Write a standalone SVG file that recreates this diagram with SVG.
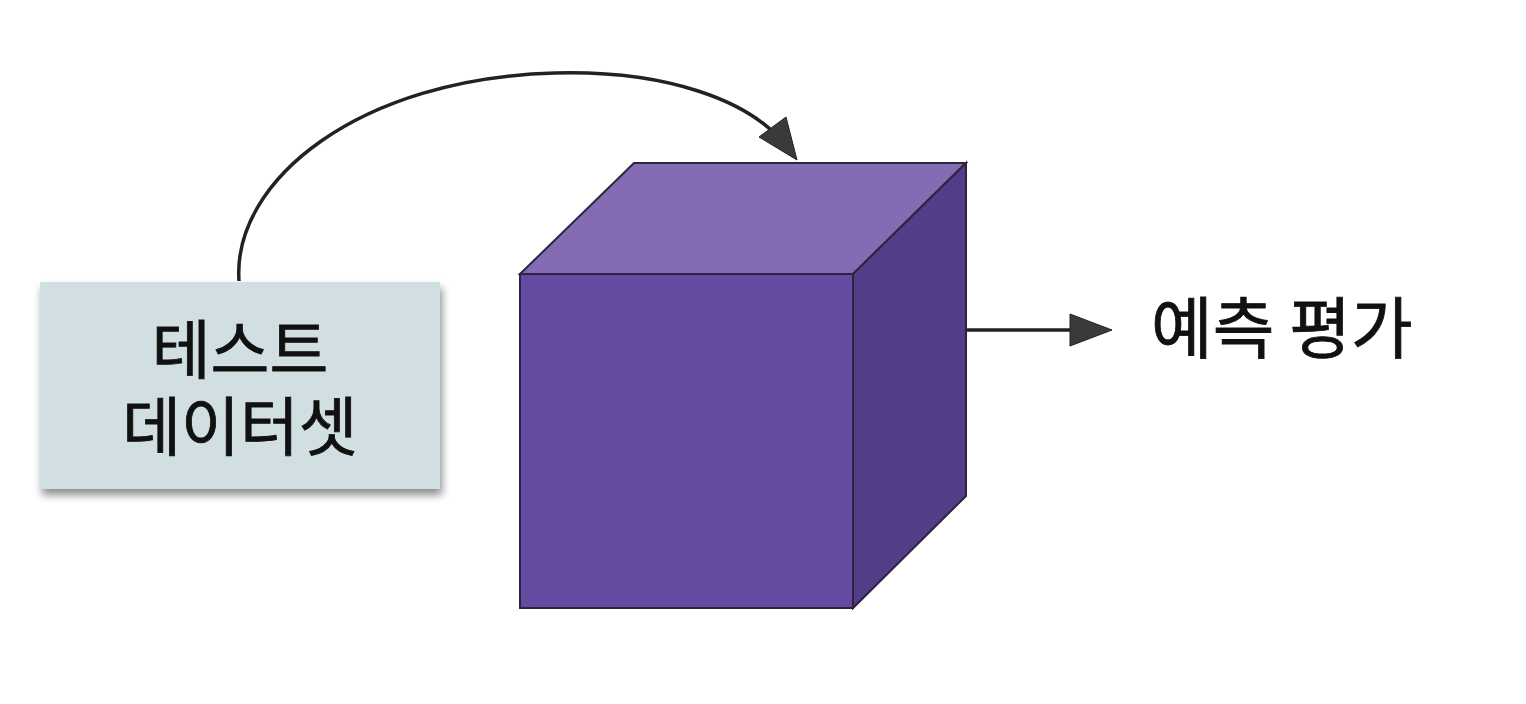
<svg xmlns="http://www.w3.org/2000/svg" width="1526" height="704" viewBox="0 0 1526 704">
<style>
.lbl{font-family:"Noto Sans CJK KR","Noto Sans",sans-serif;fill:#111;font-weight:400;stroke:#111;stroke-width:0.8;}
.edge{fill:none;stroke:#222;stroke-width:3.5;}
</style>
<defs>
<filter id="sh" x="-10%" y="-10%" width="125%" height="135%">
<feGaussianBlur in="SourceAlpha" stdDeviation="4"/>
<feOffset dx="2" dy="6" result="b"/>
<feComponentTransfer><feFuncA type="linear" slope="0.45"/></feComponentTransfer>
<feMerge><feMergeNode/><feMergeNode in="SourceGraphic"/></feMerge>
</filter>
</defs>
<rect width="1526" height="704" fill="#ffffff"/>
<g id="edges">
<path class="edge" d="M239,281 C232,180 360,78 555,73 C665,70 750,100 785,145"/>
<path d="M797,160 L759,137 L786,117 Z" fill="#3a3a3a" stroke="#222" stroke-width="1"/>
<line class="edge" x1="966" y1="330" x2="1072" y2="330"/>
<path d="M1112,330 L1070,314 L1070,346 Z" fill="#3a3a3a" stroke="#222" stroke-width="1"/>
</g>
<g id="dataset">
<rect x="40" y="282" width="400" height="207" fill="#d1dfe3" filter="url(#sh)"/>
<text class="lbl" font-size="64" text-anchor="middle"><tspan x="240" y="373">테스트</tspan><tspan x="240" y="450">데이터셋</tspan></text>
</g>
<g id="cube" stroke="#2e2440" stroke-width="2" stroke-linejoin="miter">
<polygon points="520,274 634,163 966,163 853,274" fill="#836cb3"/>
<polygon points="853,274 966,163 966,496 853,608" fill="#533c88"/>
<rect x="520" y="274" width="333" height="334" fill="#644aa0"/>
</g>
<g id="result">
<text class="lbl" x="1151" y="353" font-size="67">예측 평가</text>
</g>
</svg>
